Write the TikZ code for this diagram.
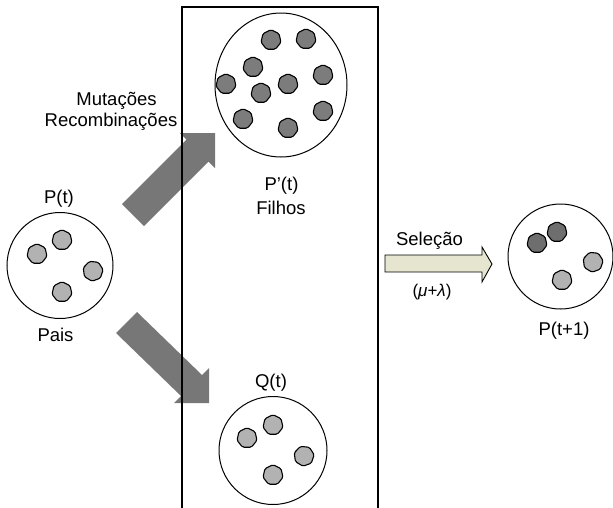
\documentclass[tikz,border=0pt]{standalone}
\usepackage{fontspec}
\setmainfont{Liberation Sans}
\usetikzlibrary{shapes.geometric}
\definecolor{blobdark}{HTML}{7C7C7C}
\definecolor{blobdarker}{HTML}{6E6E6E}
\definecolor{bloblight}{HTML}{B2B2B2}
\definecolor{arrowgray}{HTML}{777777}
\definecolor{selfill}{HTML}{E6E6D0}
\begin{document}
\begin{tikzpicture}[x=1pt,y=-1pt,
  pop/.style={draw, line width=1pt, circle, inner sep=0pt},
  blob/.style={regular polygon, regular polygon sides=7, draw, line width=1.1pt, rounded corners=1.5pt, minimum size=20.5pt, inner sep=0pt},
  dblob/.style={blob, fill=blobdark},
  ddblob/.style={blob, fill=blobdarker},
  lblob/.style={blob, fill=bloblight},
  lbl/.style={anchor=base, inner sep=0pt, font=\fontsize{18.5}{22}\selectfont},
  bigarrow/.style={fill=arrowgray},
  selarrow/.style={draw, line width=0.9pt, fill=selfill}]
\useasboundingbox (0,0) rectangle (613,507);

% big gray arrows
\fill[bigarrow] (122,204) -- (186.5,139.5) -- (180,133) -- (215,133) -- (215,168) -- (208.5,161.5) -- (144,226) -- cycle;
\fill[bigarrow] (137,312) -- (202,375) -- (209,368) -- (209,403) -- (174,403) -- (181,396) -- (116,333) -- cycle;

% box
\draw[line width=1.1pt] (182,508) -- (182,7) -- (378,7) -- (378,508);

% P(t)
\node[pop, minimum size=106pt] (pt) at (60,265.5) {};
\node[lblob] (pt1) at (62,240) {};
\node[lblob] (pt2) at (37,254) {};
\node[lblob, rotate=20] (pt3) at (93,271) {};
\node[lblob] (pt4) at (62,292) {};
\node[lbl] (ptl) at (59,203) {P(t)};
\node[lbl] (pais) at (55.5,341) {Pais};

% P'(t)
\node[draw, line width=1pt, ellipse, inner sep=0pt, minimum width=132pt, minimum height=144pt] (pp) at (281,85) {};
\node[dblob] (pp1) at (271,40) {};
\node[dblob] (pp2) at (306,39) {};
\node[dblob] (pp3) at (253,67) {};
\node[dblob] (pp4) at (323,75) {};
\node[dblob] (pp5) at (226,84) {};
\node[dblob] (pp6) at (288,84) {};
\node[dblob] (pp7) at (261,93) {};
\node[dblob] (pp8) at (323,111) {};
\node[dblob] (pp9) at (243,119) {};
\node[dblob] (pp10) at (288,128) {};
\node[lbl] (ppl) at (281.5,190) {P'(t)};
\node[lbl] (filhos) at (281,214) {Filhos};

% Q(t)
\node[pop, minimum size=108pt] (qt) at (273,450.5) {};
\node[lblob] (qt1) at (273,425) {};
\node[lblob] (qt2) at (247,438) {};
\node[lblob, rotate=20] (qt3) at (304,456) {};
\node[lblob] (qt4) at (273,475) {};
\node[lbl] (qtl) at (271,387) {Q(t)};

% P(t+1)
\node[pop, minimum size=105pt] (pn) at (560.5,256.5) {};
\node[ddblob] (pn1) at (557,232) {};
\node[ddblob] (pn2) at (537,243) {};
\node[lblob, rotate=20] (pn3) at (593,262) {};
\node[lblob] (pn4) at (562,280) {};
\node[lbl] (pnl) at (564,335) {P(t+1)};

% labels on the left
\node[lbl] (mut) at (116.5,105.7) {Mutações};
\node[lbl] (rec) at (111,126.7) {Recombinações};

% selection arrow
\draw[selarrow] (385,255) -- (482,255) -- (482,247) -- (492,264) -- (482,282) -- (482,272) -- (385,272) -- cycle;
\node[lbl] (sel) at (429.5,245) {Seleção};
\node[anchor=base, inner sep=0pt, font=\fontsize{17}{19}\selectfont] (ml) at (432,296.5) {(\textit{μ}+\textit{λ})};
\end{tikzpicture}
\end{document}
